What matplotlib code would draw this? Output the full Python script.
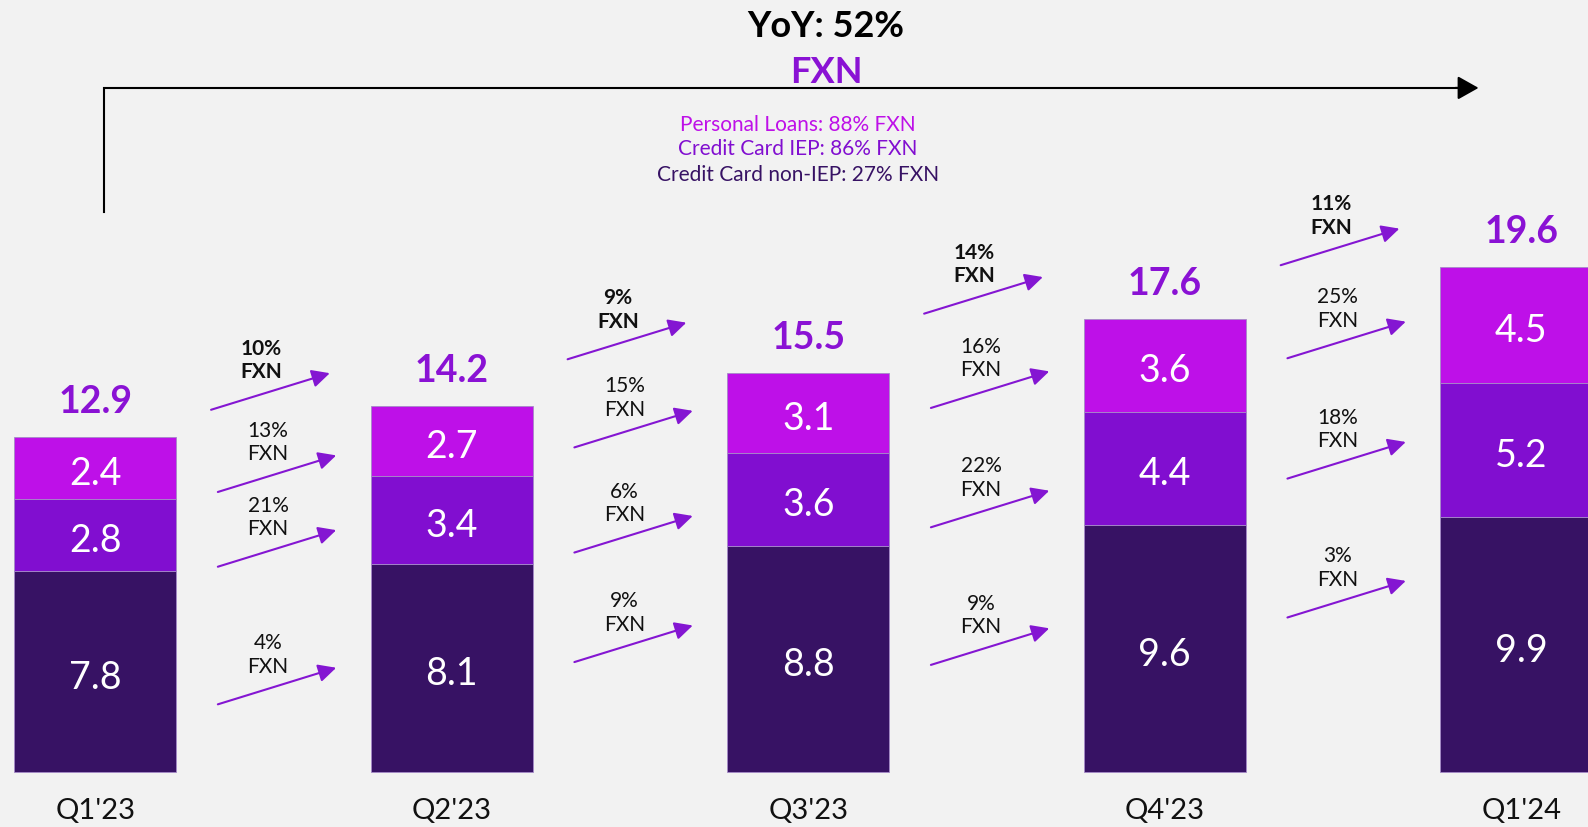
import matplotlib
matplotlib.use("Agg")
import matplotlib.pyplot as plt
from matplotlib.patches import FancyArrowPatch

plt.rcParams["font.family"] = ["Lato", "DejaVu Sans"]

# ---- data ----
quarters = ["Q1'23", "Q2'23", "Q3'23", "Q4'23", "Q1'24"]
cc_non_iep = [7.8, 8.1, 8.8, 9.6, 9.9]
cc_iep = [2.8, 3.4, 3.6, 4.4, 5.2]
personal_loans = [2.4, 2.7, 3.1, 3.6, 4.5]
totals = [12.9, 14.2, 15.5, 17.6, 19.6]

# quarter-over-quarter growth, FX neutral (between consecutive quarters)
qoq_total = ["10%", "9%", "14%", "11%"]
qoq_pl = ["13%", "15%", "16%", "25%"]
qoq_iep = ["21%", "6%", "22%", "18%"]
qoq_non_iep = ["4%", "9%", "9%", "3%"]

yoy_headline = "YoY: 52%"
yoy_breakdown = [
    "Personal Loans: 88% FXN",
    "Credit Card IEP: 86% FXN",
    "Credit Card non-IEP: 27% FXN",
]

# ---- styling ----
BG = "#f2f2f2"
C_DARK = "#371264"
C_MID = "#810ed0"
C_TOP = "#be10e8"
C_TOTAL = "#8a12d4"
C_ARROW = "#8416d2"

fig = plt.figure(figsize=(15.88, 8.28), dpi=100, facecolor=BG)
ax = fig.add_axes([0, 0, 1, 1], facecolor=BG)
ax.set_xlim(-0.267, 4.187)
ax.set_ylim(-2.12, 30.01)
ax.axis("off")

x = list(range(len(quarters)))
w = 0.4545
edge = dict(edgecolor="#a58ac8", linewidth=0.6)

b1 = ax.bar(x, cc_non_iep, width=w, color=C_DARK, **edge)
base2 = cc_non_iep
b2 = ax.bar(x, cc_iep, width=w, bottom=base2, color=C_MID, **edge)
base3 = [a + b for a, b in zip(cc_non_iep, cc_iep)]
b3 = ax.bar(x, personal_loans, width=w, bottom=base3, color=C_TOP, **edge)
stack_top = [a + b for a, b in zip(base3, personal_loans)]

# segment values inside the bars
for bars in (b1, b2, b3):
    for r in bars:
        ax.annotate(f"{r.get_height():.1f}",
                    (r.get_x() + r.get_width() / 2, r.get_y() + r.get_height() / 2),
                    xytext=(0, -3.5), textcoords="offset points",
                    ha="center", va="center", color="white", fontsize=27)

# stack totals
for xi, top, t in zip(x, stack_top, totals):
    ax.annotate(f"{t:.1f}", (xi, top), xytext=(0, 18), textcoords="offset points",
                ha="center", va="baseline", color=C_TOTAL, fontsize=27,
                fontweight="bold")

# quarter labels
for xi, q in zip(x, quarters):
    ax.text(xi, -1.45, q, ha="center", va="center", fontsize=21, color="#111111")

# growth arrows between quarters: tail heights per gap
rise = 1.42
arrow_rows = [
    (qoq_total, [14.07, 16.03, 17.80, 19.68], True),
    (qoq_pl, [10.88, 12.61, 14.14, 16.07], False),
    (qoq_iep, [7.98, 8.53, 9.51, 11.40], False),
    (qoq_non_iep, [2.64, 4.28, 4.17, 6.01], False),
]
for labels, tails, bold in arrow_rows:
    for g, (lab, y0) in enumerate(zip(labels, tails)):
        gc = g + 0.5
        if bold:
            x0, x1 = gc - 0.175, gc + 0.158
        else:
            x0, x1 = gc - 0.156, gc + 0.176
        arr = FancyArrowPatch((x0, y0), (x1, y0 + rise),
                              arrowstyle="-|>,head_length=0.6,head_width=0.3",
                              mutation_scale=18, color=C_ARROW, lw=1.5,
                              shrinkA=0, shrinkB=0)
        ax.add_patch(arr)
        ax.text((x0 + x1) / 2 - 0.025, y0 + 1.95, f"{lab}\nFXN", ha="center",
                va="center", fontsize=15, linespacing=1.22, color="#111111",
                fontweight="bold" if bold else "normal")

# year-over-year bracket
bx0, bx1 = 0.0255, 3.875
by0, by1 = 21.76, 26.56
ax.plot([bx0, bx0, bx1 - 0.03], [by0, by1, by1], color="black", lw=1.5,
        solid_joinstyle="miter")
ax.add_patch(FancyArrowPatch((bx1 - 0.06, by1), (bx1 + 0.005, by1),
                             arrowstyle="-|>,head_length=0.8,head_width=0.45",
                             mutation_scale=16, color="black", lw=1.5,
                             shrinkA=0, shrinkB=0))

ax.text(2.05, 28.97, yoy_headline, ha="center", va="center", fontsize=26,
        fontweight="bold", color="black")
ax.text(2.05, 27.2, "FXN", ha="center", va="center", fontsize=26,
        fontweight="bold", color=C_TOTAL)

for txt, col, yy in zip(yoy_breakdown, [C_TOP, C_MID, C_DARK], [25.17, 24.22, 23.2]):
    ax.text(1.97, yy, txt, ha="center", va="center", fontsize=15, color=col)

fig.savefig("out.png", dpi=100, facecolor=BG)
